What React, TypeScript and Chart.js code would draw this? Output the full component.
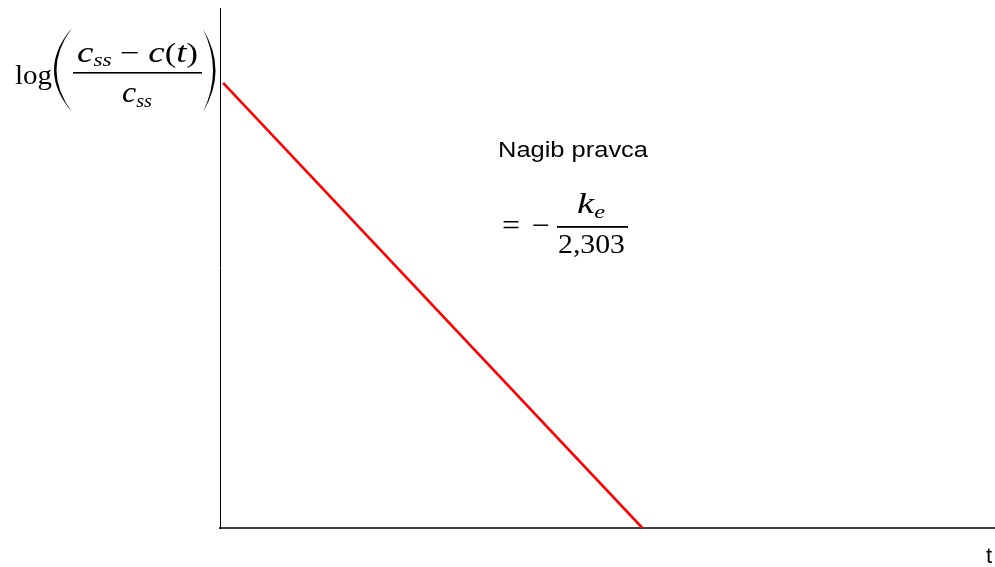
import React, { useEffect, useRef } from "react";
import { Chart, registerables } from "chart.js";

Chart.register(...registerables);

// ---- data ----
const timeValues = [0.4, 54.5];
const logValues = [85.6, 0];
const xAxisLabel = "t";
const slopeLabel = "Nagib pravca";
const slopeDenominator = "2,303";

type Piece = { t: string; font: string; dy?: number };

function drawRun(ctx: CanvasRenderingContext2D, pieces: Piece[], x: number, y: number, width?: number) {
  let total = 0;
  const widths = pieces.map((p) => {
    ctx.font = p.font;
    const w = ctx.measureText(p.t).width;
    total += w;
    return w;
  });
  const sx = width ? width / total : 1;
  ctx.save();
  ctx.translate(x, y);
  ctx.scale(sx, 1);
  let cx = 0;
  pieces.forEach((p, i) => {
    ctx.font = p.font;
    ctx.fillText(p.t, cx, p.dy || 0);
    cx += widths[i];
  });
  ctx.restore();
}

// stretchy delimiter (big parenthesis) drawn as a thin crescent
function drawParen(ctx: CanvasRenderingContext2D, endX: number, top: number, bottom: number, outerC: number, innerC: number) {
  const mid = (top + bottom) / 2;
  ctx.beginPath();
  ctx.moveTo(endX, top);
  ctx.quadraticCurveTo(outerC, mid, endX, bottom);
  ctx.quadraticCurveTo(innerC, mid, endX, top);
  ctx.closePath();
  ctx.fill();
}

const SERIF = '"Liberation Serif"';
const IT = (s: number) => `italic ${s}px ${SERIF}`;
const RM = (s: number) => `${s}px ${SERIF}`;
const SANS = '"Liberation Sans"';

const annotations = {
  id: "annotations",
  afterDraw(chart: any) {
    const ctx: CanvasRenderingContext2D = chart.ctx;
    ctx.save();
    ctx.fillStyle = "#000";
    ctx.textAlign = "left";
    ctx.textBaseline = "alphabetic";

    // y-axis formula: log((c_ss - c(t)) / c_ss)
    drawRun(ctx, [{ t: "log", font: RM(27) }], 15, 84, 37);
    drawParen(ctx, 72, 28, 112, 36, 41);
    drawRun(
      ctx,
      [
        { t: "c", font: IT(30) },
        { t: "ss", font: IT(19), dy: 4 },
        { t: " \u2212 ", font: RM(28) },
        { t: "c", font: IT(30) },
        { t: "(", font: RM(28) },
        { t: "t", font: IT(30) },
        { t: ")", font: RM(28) },
      ],
      77,
      62,
      121
    );
    ctx.fillRect(73, 72, 129, 1.6);
    drawRun(
      ctx,
      [
        { t: "c", font: IT(30) },
        { t: "ss", font: IT(19), dy: 5 },
      ],
      122,
      102,
      30
    );
    drawParen(ctx, 203, 29, 112, 228, 223);

    // slope annotation
    drawRun(ctx, [{ t: slopeLabel, font: `22px ${SANS}` }], 498, 157, 150);
    drawRun(ctx, [{ t: "=", font: RM(30) }], 502, 235, 18);
    drawRun(ctx, [{ t: "\u2212", font: RM(30) }], 532, 235, 18);
    ctx.fillRect(557, 226, 71, 1.8);
    drawRun(
      ctx,
      [
        { t: "k", font: IT(30) },
        { t: "e", font: IT(19), dy: 5 },
      ],
      577,
      213,
      28
    );
    drawRun(ctx, [{ t: slopeDenominator, font: RM(28) }], 558, 253, 67);

    // x-axis label
    ctx.font = `22px ${SANS}`;
    ctx.fillText(xAxisLabel, 986, 563);
    ctx.restore();
  },
};

export default function App() {
  const ref = useRef<HTMLCanvasElement | null>(null);

  useEffect(() => {
    if (!ref.current) return;
    const points = timeValues.map((x, i) => ({ x, y: logValues[i] }));
    const chart = new Chart(ref.current, {
      type: "line",
      data: {
        datasets: [
          {
            data: points,
            borderColor: "#ff0000",
            borderWidth: 2.6,
            pointRadius: 0,
            fill: false,
            tension: 0,
          },
        ],
      },
      options: {
        responsive: false,
        maintainAspectRatio: false,
        devicePixelRatio: 1,
        animation: false,
        layout: { padding: { left: 220, top: 8, right: 0, bottom: 39 } },
        plugins: { legend: { display: false }, tooltip: { enabled: false } },
        scales: {
          x: {
            type: "linear",
            min: 0,
            max: 100,
            ticks: { display: false },
            grid: { display: false, drawTicks: false },
            border: { display: true, color: "#404040", width: 2 },
          },
          y: {
            type: "linear",
            min: 0,
            max: 100,
            ticks: { display: false },
            grid: { display: false, drawTicks: false },
            border: { display: true, color: "#000000", width: 1 },
          },
        },
      },
      plugins: [annotations],
    });
    return () => chart.destroy();
  }, []);

  return (
    <div style={{ position: "absolute", left: 0, top: 0, width: 995, height: 567, background: "#fff" }}>
      <canvas ref={ref} width={995} height={567} />
    </div>
  );
}
